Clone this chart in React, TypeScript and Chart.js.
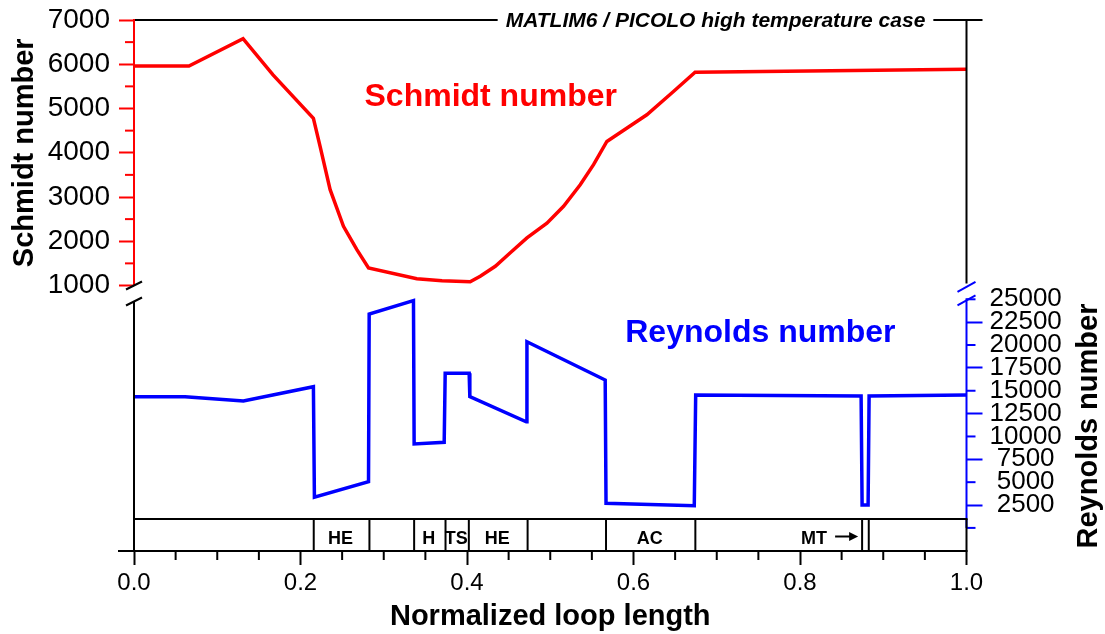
import React, { useEffect, useRef } from 'react';
import { Chart, registerables } from 'chart.js';

Chart.register(...registerables);

// ---------------- data ----------------
const schmidtX = [0, 0.066, 0.131, 0.167, 0.2155, 0.2236, 0.2356, 0.2516, 0.2677, 0.2817, 0.3397, 0.37, 0.4038, 0.4159, 0.434, 0.452, 0.472, 0.496, 0.516, 0.536, 0.552, 0.568, 0.616, 0.648, 0.674, 1.0];
const schmidtY = [5960, 5960, 6580, 5760, 4780, 4140, 3165, 2337, 1812, 1399, 1151, 1105, 1083, 1209, 1435, 1740, 2075, 2410, 2790, 3278, 3730, 4256, 4857, 5383, 5820, 5888];

const reynoldsX = [0, 0.0613, 0.1314, 0.2155, 0.2167, 0.2817, 0.2825, 0.3357, 0.3365, 0.3726, 0.3738, 0.4026, 0.4034, 0.4712, 0.472, 0.566, 0.567, 0.673, 0.6747, 0.8734, 0.8746, 0.8818, 0.883, 1.0];
const reynoldsY = [14350, 14350, 13880, 15440, 3350, 5050, 23390, 24850, 9180, 9360, 16900, 16900, 14350, 11610, 20360, 16170, 2690, 2430, 14530, 14430, 2500, 2500, 14430, 14530];

const segmentBounds = [0, 0.2159, 0.2828, 0.3365, 0.3742, 0.4022, 0.4728, 0.567, 0.6743, 0.8746, 0.8826, 1.0];
const segmentLabels = ['', 'HE', '', 'H', 'TS', 'HE', '', 'AC', 'MT', '', ''];

const xTicks = [0, 0.2, 0.4, 0.6, 0.8, 1.0];
const xMinorTicks = [0.05, 0.1, 0.15, 0.25, 0.3, 0.35, 0.45, 0.5, 0.55, 0.65, 0.7, 0.75, 0.85, 0.9, 0.95];
const schmidtTicks = [1000, 2000, 3000, 4000, 5000, 6000, 7000];
const schmidtMinorTicks = [1500, 2500, 3500, 4500, 5500, 6500];
const reynoldsTicks = [2500, 5000, 7500, 10000, 12500, 15000, 17500, 20000, 22500, 25000];
const reynoldsShortTicks = [0, 5000, 10000, 15000, 20000, 25000];

const chartTitle = 'MATLIM6 / PICOLO high temperature case';
const xTitle = 'Normalized loop length';
const schmidtTitle = 'Schmidt number';
const reynoldsTitle = 'Reynolds number';

// ---------------- styles ----------------
const FONT = '"Liberation Sans", Arial, Helvetica, sans-serif';
const RED = '#ff0000';
const BLUE = '#0000ff';
const BLACK = '#000000';

const framePlugin = {
  id: 'framePlugin',
  afterDraw(chart: any) {
    const { ctx, chartArea, scales } = chart;
    const sx = scales.x;
    const sy = scales.y;
    const sr = scales.y2;
    const L = chartArea.left;
    const R = chartArea.right;
    const T = chartArea.top;
    const B = chartArea.bottom;

    const line = (x1: number, y1: number, x2: number, y2: number, color = BLACK, w = 2) => {
      ctx.beginPath();
      ctx.strokeStyle = color;
      ctx.lineWidth = w;
      ctx.lineCap = 'butt';
      ctx.moveTo(x1, y1);
      ctx.lineTo(x2, y2);
      ctx.stroke();
    };

    ctx.save();

    // title on top frame
    ctx.font = `italic bold 21px ${FONT}`;
    ctx.fillStyle = BLACK;
    ctx.textAlign = 'center';
    ctx.textBaseline = 'alphabetic';
    const tw = ctx.measureText(chartTitle).width;
    const tcx = R - 251;
    ctx.fillText(chartTitle, tcx, T + 7);
    line(L, T, tcx - tw / 2 - 8, T);
    line(tcx + tw / 2 + 8, T, R + 16, T);

    // left axis (upper, red)
    const yS1000 = sy.getPixelForValue(1000);
    line(L, T - 1, L, yS1000, RED);
    for (const v of schmidtMinorTicks) {
      const p = sy.getPixelForValue(v);
      line(L - 9, p, L, p, RED);
    }
    // left break
    line(L - 8, yS1000 + 4, L + 8, yS1000 - 4, BLACK);
    line(L - 8, yS1000 + 20, L + 8, yS1000 + 12, BLACK);
    line(L, yS1000 + 16, L, B, BLACK);

    // right axis upper (black)
    line(R, T - 1, R, yS1000 - 2, BLACK);
    // right break (blue)
    const yR25 = sr.getPixelForValue(25000);
    line(R - 9, yR25 - 7.5, R + 9, yR25 - 17.5, BLUE);
    line(R - 9, yR25 + 6, R + 9, yR25 - 4, BLUE);
    line(R, yR25 - 1, R, sr.getPixelForValue(0), BLUE);
    for (const v of reynoldsShortTicks) {
      const p = sr.getPixelForValue(v);
      line(R, p, R + 9, p, BLUE);
    }

    // bottom axis
    line(L - 16, B, R + 1, B, BLACK);
    for (const v of xMinorTicks) {
      const p = sx.getPixelForValue(v);
      line(p, B, p, B + 9, BLACK);
    }

    // component strip
    const sTop = B - 32;
    line(L - 1, sTop, R + 1, sTop, BLACK);
    for (const v of segmentBounds) {
      const p = sx.getPixelForValue(v);
      line(p, sTop, p, B, BLACK);
    }
    ctx.font = `bold 18px ${FONT}`;
    ctx.fillStyle = BLACK;
    ctx.textBaseline = 'alphabetic';
    for (let i = 0; i < segmentLabels.length; i++) {
      const lab = segmentLabels[i];
      if (!lab) continue;
      const a = sx.getPixelForValue(segmentBounds[i]);
      const b = sx.getPixelForValue(segmentBounds[i + 1]);
      if (lab === 'MT') {
        const tipX = b - 4;
        const startX = b - 27;
        const midY = B - 14.5;
        ctx.textAlign = 'right';
        ctx.fillText(lab, b - 35, B - 7.5);
        line(startX, midY, tipX - 7, midY, BLACK, 2);
        ctx.beginPath();
        ctx.moveTo(tipX, midY);
        ctx.lineTo(tipX - 9, midY - 4.5);
        ctx.lineTo(tipX - 9, midY + 4.5);
        ctx.closePath();
        ctx.fill();
      } else {
        ctx.textAlign = 'center';
        ctx.fillText(lab, (a + b) / 2 - 1, B - 7.5);
      }
    }

    // in-plot series labels
    ctx.font = `bold 32px ${FONT}`;
    ctx.textAlign = 'center';
    ctx.fillStyle = RED;
    ctx.fillText(schmidtTitle, sx.getPixelForValue(0.4285), 106);
    ctx.fillStyle = BLUE;
    ctx.fillText(reynoldsTitle, sx.getPixelForValue(0.7524), 341.7);

    // axis titles
    ctx.fillStyle = BLACK;
    ctx.font = `bold 29px ${FONT}`;
    ctx.textAlign = 'center';
    ctx.fillText(xTitle, (L + R) / 2, 625);

    ctx.save();
    ctx.translate(33, (T + yS1000) / 2);
    ctx.rotate(-Math.PI / 2);
    ctx.fillText(schmidtTitle, 0, 0);
    ctx.restore();

    ctx.save();
    ctx.translate(1097, 426);
    ctx.rotate(-Math.PI / 2);
    ctx.fillText(reynoldsTitle, 0, 0);
    ctx.restore();

    ctx.restore();
  },
};

const noPad = (s: any) => {
  s.paddingTop = 0;
  s.paddingBottom = 0;
};

export default function App() {
  const canvasRef = useRef<HTMLCanvasElement | null>(null);

  useEffect(() => {
    const canvas = canvasRef.current;
    if (!canvas) return;
    Chart.defaults.font.family = FONT;

    const schmidtData = schmidtX.map((x, i) => ({ x, y: schmidtY[i] }));
    const reynoldsData = reynoldsX.map((x, i) => ({ x, y: reynoldsY[i] }));

    const chart = new Chart(canvas, {
      type: 'line',
      data: {
        datasets: [
          {
            label: schmidtTitle,
            data: schmidtData,
            yAxisID: 'y',
            borderColor: RED,
            borderWidth: 3.5,
            pointRadius: 0,
            tension: 0,
            fill: false,
          },
          {
            label: reynoldsTitle,
            data: reynoldsData,
            yAxisID: 'y2',
            borderColor: BLUE,
            borderWidth: 3.5,
            pointRadius: 0,
            tension: 0,
            fill: false,
          },
        ],
      },
      options: {
        animation: false,
        responsive: true,
        maintainAspectRatio: false,
        layout: { padding: { top: 20, left: 0, right: 0, bottom: 0 } },
        plugins: {
          legend: { display: false },
          tooltip: { enabled: false },
          title: { display: false },
        },
        scales: {
          x: {
            type: 'linear',
            position: 'bottom',
            min: 0,
            max: 1,
            afterBuildTicks: (s: any) => {
              s.ticks = xTicks.map((v) => ({ value: v }));
            },
            afterFit: (s: any) => {
              s.height = 83;
              s.paddingLeft = 0;
              s.paddingRight = 0;
            },
            ticks: {
              callback: (v: any) => Number(v).toFixed(1),
              font: { size: 24, family: FONT },
              color: BLACK,
              padding: 4,
              maxRotation: 0,
              autoSkip: false,
            },
            grid: {
              drawOnChartArea: false,
              drawTicks: true,
              tickLength: 14,
              tickWidth: 2,
              tickColor: BLACK,
            },
            border: { display: false },
          },
          y: {
            type: 'linear',
            position: 'left',
            min: -5000,
            max: 7000,
            afterBuildTicks: (s: any) => {
              s.ticks = schmidtTicks.map((v) => ({ value: v }));
            },
            afterFit: (s: any) => {
              s.width = 134;
              noPad(s);
            },
            ticks: {
              callback: (v: any) => String(v),
              font: { size: 28, family: FONT },
              color: BLACK,
              padding: 9,
              autoSkip: false,
            },
            grid: {
              drawOnChartArea: false,
              drawTicks: true,
              tickLength: 15,
              tickWidth: 2,
              tickColor: RED,
            },
            border: { display: false },
          },
          y2: {
            type: 'linear',
            position: 'right',
            min: -2526,
            max: 55545,
            afterBuildTicks: (s: any) => {
              s.ticks = reynoldsTicks.map((v) => ({ value: v }));
            },
            afterFit: (s: any) => {
              s.width = 138.5;
              noPad(s);
            },
            ticks: {
              callback: (v: any) => String(v),
              font: { size: 26, family: FONT },
              color: BLACK,
              padding: 7,
              crossAlign: 'center',
              autoSkip: false,
            },
            grid: {
              drawOnChartArea: false,
              drawTicks: true,
              tickLength: 16,
              tickWidth: 2,
              tickColor: (c: any) =>
                c.tick && c.tick.value % 5000 !== 0 ? BLUE : 'rgba(0,0,0,0)',
            },
            border: { display: false },
          },
        },
      },
      plugins: [framePlugin],
    } as any);

    return () => {
      chart.destroy();
    };
  }, []);

  return (
    <div
      style={{
        position: 'absolute',
        left: 0,
        top: 0,
        width: 1105,
        height: 634,
        background: '#ffffff',
      }}
    >
      <canvas ref={canvasRef} style={{ display: 'block' }} />
    </div>
  );
}
